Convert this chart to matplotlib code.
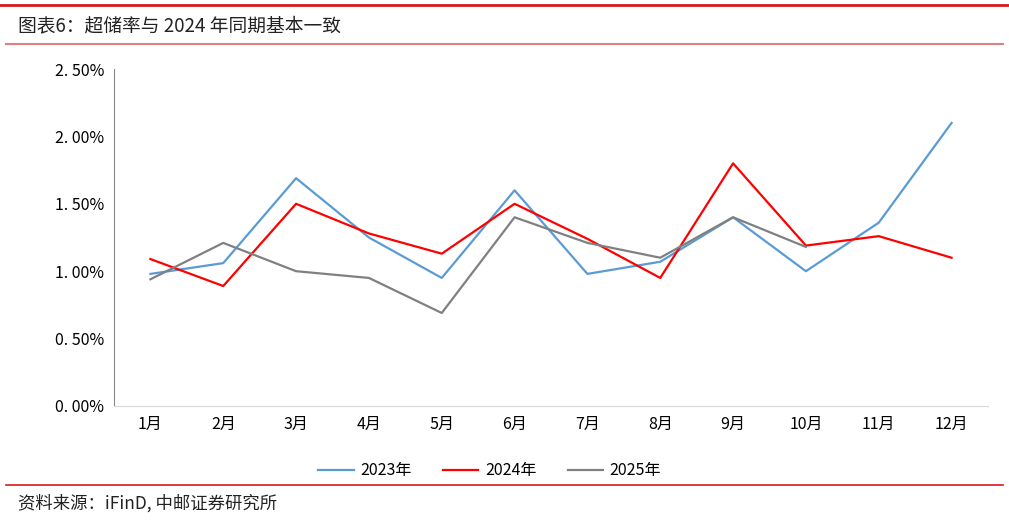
import matplotlib
matplotlib.use('Agg')
import matplotlib.pyplot as plt
from matplotlib.lines import Line2D

plt.rcParams['font.family'] = ['Noto Sans CJK SC', 'DejaVu Sans']

months = ['1月', '2月', '3月', '4月', '5月', '6月', '7月', '8月', '9月', '10月', '11月', '12月']
y2023 = [0.98, 1.06, 1.69, 1.25, 0.95, 1.60, 0.98, 1.07, 1.40, 1.00, 1.36, 2.10]
y2024 = [1.09, 0.89, 1.50, 1.28, 1.13, 1.50, 1.24, 0.95, 1.80, 1.19, 1.26, 1.10]
y2025 = [0.94, 1.21, 1.00, 0.95, 0.69, 1.40, 1.21, 1.10, 1.40, 1.18]
series_names = ['2023年', '2024年', '2025年']
yticks = [0.0, 0.5, 1.0, 1.5, 2.0, 2.5]

fig = plt.figure(figsize=(10.09, 5.2), dpi=100)
ax = fig.add_axes([114 / 1009, 1 - 406 / 520, (988 - 114) / 1009, (406 - 69) / 520])

x = list(range(len(months)))
ax.plot(x, y2023, color='#5B9BD5', lw=1.6, label=series_names[0])
ax.plot(x, y2024, color='#FF0000', lw=1.6, label=series_names[1])
ax.plot(x[:len(y2025)], y2025, color='#808080', lw=1.6, label=series_names[2])

ax.set_xlim(-0.5, len(months) - 0.5)
ax.set_ylim(0, 2.5)
ax.set_yticks(yticks)
ax.set_yticklabels([f'{v:.2f}%'.replace('.', '. ') for v in yticks], fontsize=11.5)
ax.set_xticks(x)
ax.set_xticklabels(months, fontsize=11.5)
ax.tick_params(length=0, pad=7)
for s in ['top', 'right']:
    ax.spines[s].set_visible(False)
ax.spines['left'].set_color('#888888')
ax.spines['bottom'].set_color('#d9d9d9')

ax.legend(loc='upper center', bbox_to_anchor=(0.43, -0.125), ncol=3, frameon=False,
          fontsize=11.5, handlelength=2.2, columnspacing=2.0, handletextpad=0.4)

# header / footer lines and texts
fig.add_artist(Line2D([0.0, 1.0], [1 - 5 / 520, 1 - 5 / 520], color='#D7191C', lw=2))
fig.add_artist(Line2D([6 / 1009, 1003 / 1009], [1 - 44 / 520, 1 - 44 / 520], color='#E08080', lw=1.5))
fig.add_artist(Line2D([6 / 1009, 1003 / 1009], [1 - 485 / 520, 1 - 485 / 520], color='#D7191C', lw=1.2))
fig.text(18 / 1009, 1 - 26 / 520, '图表6：超储率与 2024 年同期基本一致', fontsize=13.5,
         fontweight='medium', va='center', ha='left', color='#222222')
fig.text(18 / 1009, 1 - 503 / 520, '资料来源：iFinD, 中邮证券研究所', fontsize=12.5,
         va='center', ha='left', color='#222222')

fig.savefig('out.png', dpi=100)
